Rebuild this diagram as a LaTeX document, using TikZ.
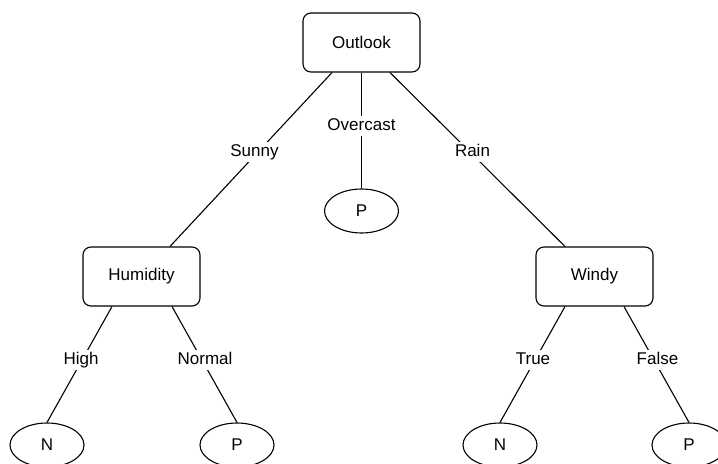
\documentclass[tikz,border=0pt]{standalone}
\usepackage{fontspec}
\setmainfont{Liberation Sans}
\usetikzlibrary{shapes.geometric}
\begin{document}
\begin{tikzpicture}[x=1bp,y=-1bp,
  every node/.style={font=\fontsize{17bp}{20bp}\selectfont},
  box/.style={draw,line width=1.1bp,rounded corners=8bp,minimum width=117bp,minimum height=59bp,inner sep=0pt},
  leaf/.style={draw,line width=1.1bp,ellipse,minimum width=74bp,minimum height=44bp,inner sep=0pt},
  edge/.style={line width=1.1bp},
  lbl/.style={fill=white,inner sep=2bp,text height=12.5bp,text depth=3.5bp,pos=0.457}]
\useasboundingbox (0,0) rectangle (718,464);
\node[box] (outlook) at (361.5,42.5) {Outlook};
\node[box] (humidity) at (141.5,276.5) {Humidity};
\node[box] (windy) at (594.5,276.5) {Windy};
\node[leaf] (p0) at (361.5,211) {P};
\node[leaf] (n1) at (47,445) {N};
\node[leaf] (p1) at (237,445) {P};
\node[leaf] (n2) at (500,445) {N};
\node[leaf] (p2) at (689,445) {P};
\draw[edge] ([xshift=-29.5bp]outlook.south) -- ([xshift=28.5bp]humidity.north) node[lbl,xshift=-3.5bp] {Sunny};
\draw[edge] (outlook.south) -- (p0.north) node[lbl] {Overcast};
\draw[edge] ([xshift=28.5bp]outlook.south) -- ([xshift=-29.5bp]windy.north) node[lbl,xshift=2.5bp] {Rain};
\draw[edge] ([xshift=-29.5bp]humidity.south) -- (n1.north) node[lbl,xshift=-1.3bp] {High};
\draw[edge] ([xshift=30.5bp]humidity.south) -- (p1.north) node[lbl,xshift=3.3bp] {Normal};
\draw[edge] ([xshift=-29.5bp]windy.south) -- (n2.north) node[lbl,xshift=-2.3bp] {True};
\draw[edge] ([xshift=29.5bp]windy.south) -- (p2.north) node[lbl,xshift=3.8bp] {False};
\end{tikzpicture}
\end{document}
